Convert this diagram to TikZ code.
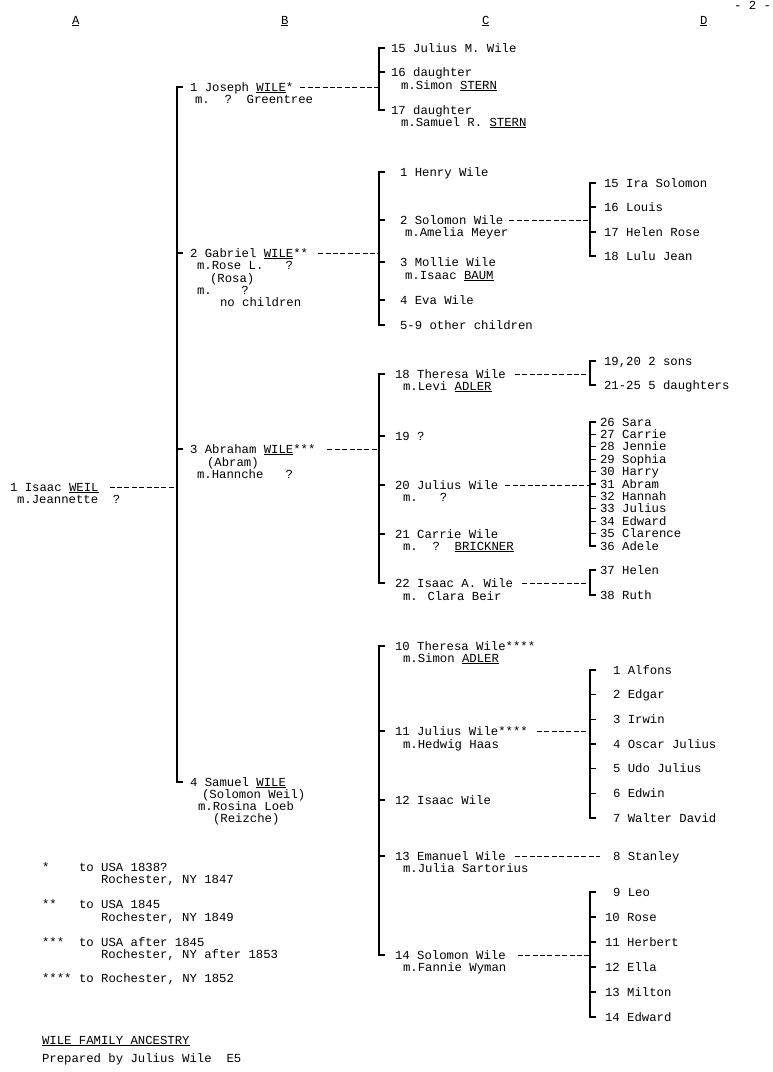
\documentclass[tikz,border=0pt]{standalone}
\usepackage{fontspec}
\setmainfont{Liberation Mono}
\newcommand\U[1]{\underline{#1}}
\tikzset{
  txt/.style={inner sep=0pt, outer sep=0pt, anchor=west,
    font=\fontsize{12.3}{12.4}\selectfont, text height=9pt, text depth=1pt},
  br/.style={line width=1.2pt, line cap=rect},
  dl/.style={line width=1pt, dash pattern=on 5pt off 2.4pt},
}
\newcommand\tn[4]{\node[txt] (#1) at (#2,#3) {#4};}
\newcommand\brk[3]{\draw[br] (#2.west -| #1) ++(5,0) -- (#2.west -| #1) -- (#3.west -| #1) -- ++(5,0);}
\newcommand\tick[2]{\draw[br] (#2.west -| #1) -- ++(5,0);}
\begin{document}
\begin{tikzpicture}[x=1pt,y=-1pt]
\useasboundingbox[fill=white] (0,0) rectangle (772,1072);
% bracket x positions
\coordinate (bxB) at (177,0);
\coordinate (bxC) at (379,0);
\coordinate (bxD) at (590,0);
% headers
\tn{hA}{72}{20}{\U{A}}
\tn{hB}{281}{20}{\U{B}}
\tn{hC}{482}{20}{\U{C}}
\tn{hD}{700}{20}{\U{D}}
\tn{pg}{734}{5}{- 2 -}
% column A
\tn{isaac}{10}{487}{1 Isaac \U{WEIL}}
\tn{isaacm}{17}{499}{m.Jeannette~~?}
% column B
\tn{joseph}{190}{87}{1 Joseph \U{WILE}*}
\tn{josephm}{195}{99}{m.~~?~~Greentree}
\tn{gabriel}{190}{253}{2 Gabriel \U{WILE}**}
\tn{gabA}{197}{265}{m.Rose L.~~~?}
\tn{gabB}{210}{278}{(Rosa)}
\tn{gabC}{197}{290}{m.~~~~?}
\tn{gabD}{220}{302}{no children}
\tn{abraham}{190}{449}{3 Abraham \U{WILE}***}
\tn{abrA}{207}{462}{(Abram)}
\tn{abrB}{197}{474}{m.Hannche~~~?}
\tn{samuel}{190}{782}{4 Samuel \U{WILE}}
\tn{samA}{202}{794}{(Solomon Weil)}
\tn{samB}{198}{806}{m.Rosina Loeb}
\tn{samC}{213}{818}{(Reizche)}
% column C, Joseph
\tn{jc15}{391}{48}{15 Julius M. Wile}
\tn{jc16}{391}{72}{16 daughter}
\tn{jc16m}{401}{85}{m.Simon \U{STERN}}
\tn{jc17}{391}{110}{17 daughter}
\tn{jc17m}{401}{122}{m.Samuel R. \U{STERN}}
% column C, Gabriel
\tn{g1}{400}{172}{1 Henry Wile}
\tn{g2}{400}{220}{2 Solomon Wile}
\tn{g2m}{405}{232}{m.Amelia Meyer}
\tn{g3}{400}{262}{3 Mollie Wile}
\tn{g3m}{405}{275}{m.Isaac \U{BAUM}}
\tn{g4}{400}{300}{4 Eva Wile}
\tn{g5}{400}{325}{5-9 other children}
% column D, Solomon
\tn{gs15}{604}{183}{15 Ira Solomon}
\tn{gs16}{604}{207}{16 Louis}
\tn{gs17}{604}{232}{17 Helen Rose}
\tn{gs18}{604}{256}{18 Lulu Jean}
% column C, Abraham
\tn{a18}{395}{374}{18 Theresa Wile}
\tn{a18m}{403}{386}{m.Levi \U{ADLER}}
\tn{a19}{395}{436}{19 ?}
\tn{a20}{395}{485}{20 Julius Wile}
\tn{a20m}{403}{497}{m.~~~?}
\tn{a21}{395}{534}{21 Carrie Wile}
\tn{a21m}{403}{546}{m.~~?~~\U{BRICKNER}}
\tn{a22}{395}{583}{22 Isaac A. Wile}
\tn{a22m}{403}{596}{m. Clara Beir}
% column D, Abraham's grandchildren
\tn{t1920}{604}{361}{19,20 2 sons}
\tn{t2125}{604}{385}{21-25 5 daughters}
\tn{k26}{600}{422}{26 Sara}
\tn{k27}{600}{434.4}{27 Carrie}
\tn{k28}{600}{446.8}{28 Jennie}
\tn{k29}{600}{459.2}{29 Sophia}
\tn{k30}{600}{471.6}{30 Harry}
\tn{k31}{600}{484}{31 Abram}
\tn{k32}{600}{496.4}{32 Hannah}
\tn{k33}{600}{508.8}{33 Julius}
\tn{k34}{600}{521.2}{34 Edward}
\tn{k35}{600}{533.6}{35 Clarence}
\tn{k36}{600}{546}{36 Adele}
\tn{k37}{600}{570}{37 Helen}
\tn{k38}{600}{595}{38 Ruth}
% column C, Samuel
\tn{s10}{395}{646}{10 Theresa Wile****}
\tn{s10m}{403}{658}{m.Simon \U{ADLER}}
\tn{s11}{395}{731}{11 Julius Wile****}
\tn{s11m}{403}{744}{m.Hedwig Haas}
\tn{s12}{395}{800}{12 Isaac Wile}
\tn{s13}{395}{856}{13 Emanuel Wile}
\tn{s13m}{403}{868}{m.Julia Sartorius}
\tn{s14}{395}{955}{14 Solomon Wile}
\tn{s14m}{403}{967}{m.Fannie Wyman}
% column D, Samuel's grandchildren
\tn{j1}{613}{670}{1 Alfons}
\tn{j2}{613}{694.7}{2 Edgar}
\tn{j3}{613}{719.3}{3 Irwin}
\tn{j4}{613}{744}{4 Oscar Julius}
\tn{j5}{613}{768.7}{5 Udo Julius}
\tn{j6}{613}{793.3}{6 Edwin}
\tn{j7}{613}{818}{7 Walter David}
\tn{j8}{613}{856}{8 Stanley}
\tn{j9}{613}{892}{9 Leo}
\tn{j10}{605}{917}{10 Rose}
\tn{j11}{605}{942}{11 Herbert}
\tn{j12}{605}{967}{12 Ella}
\tn{j13}{605}{992}{13 Milton}
\tn{j14}{605}{1017}{14 Edward}
% footnotes
\tn{fa1}{42}{867}{*}
\tn{fb1}{79}{867}{to USA 1838?}
\tn{fc1}{101}{879}{Rochester, NY 1847}
\tn{fa2}{42}{904}{**}
\tn{fb2}{79}{904}{to USA 1845}
\tn{fc2}{101}{917}{Rochester, NY 1849}
\tn{fa3}{42}{942}{***}
\tn{fb3}{79}{942}{to USA after 1845}
\tn{fc3}{101}{954}{Rochester, NY after 1853}
\tn{fa4}{42}{978}{****}
\tn{fb4}{79}{978}{to Rochester, NY 1852}
\tn{title}{42}{1040}{\U{WILE FAMILY ANCESTRY}}
\tn{prep}{42}{1058}{Prepared by Julius Wile~~E5}
% brackets
\brk{bxB}{joseph}{samuel}
\tick{bxB}{gabriel}\tick{bxB}{abraham}
\brk{bxC}{jc15}{jc17}
\tick{bxC}{jc16}
\brk{bxC}{g1}{g5}
\tick{bxC}{g2}\tick{bxC}{g3}\tick{bxC}{g4}
\brk{bxD}{gs15}{gs18}
\tick{bxD}{gs16}\tick{bxD}{gs17}
\brk{bxC}{a18}{a22}
\tick{bxC}{a19}\tick{bxC}{a20}\tick{bxC}{a21}
\brk{bxD}{t1920}{t2125}
\brk{bxD}{k26}{k36}
\foreach \k in {k27,k28,k29,k30,k31,k32,k33,k34,k35}{\tick{bxD}{\k}}
\brk{bxD}{k37}{k38}
\brk{bxC}{s10}{s14}
\tick{bxC}{s11}\tick{bxC}{s12}\tick{bxC}{s13}
\brk{bxD}{j1}{j7}
\foreach \k in {j2,j3,j4,j5,j6}{\tick{bxD}{\k}}
\brk{bxD}{j9}{j14}
\foreach \k in {j10,j11,j12,j13}{\tick{bxD}{\k}}
% dashed connectors
\draw[dl, shorten <=11pt] (isaac.east) -- (isaac.east -| bxB);
\draw[dl, shorten <=7pt] (joseph.east) -- (joseph.east -| bxC);
\draw[dl, shorten <=10pt] (gabriel.east) -- (gabriel.east -| bxC);
\draw[dl, shorten <=12pt] (abraham.east) -- (abraham.east -| bxC);
\draw[dl, shorten <=6pt] (g2.east) -- (g2.east -| bxD);
\draw[dl, shorten <=9pt] (a18.east) -- (a18.east -| bxD);
\draw[dl, shorten <=7pt] (a20.east) -- (a20.east -| bxD);
\draw[dl, shorten <=9pt] (a22.east) -- (a22.east -| bxD);
\draw[dl, shorten <=9pt] (s11.east) -- (s11.east -| bxD);
\draw[dl, shorten <=9pt, shorten >=13pt] (s13.east) -- (j8.west);
\draw[dl, shorten <=12pt] (s14.east) -- (s14.east -| bxD);
\end{tikzpicture}
\end{document}
